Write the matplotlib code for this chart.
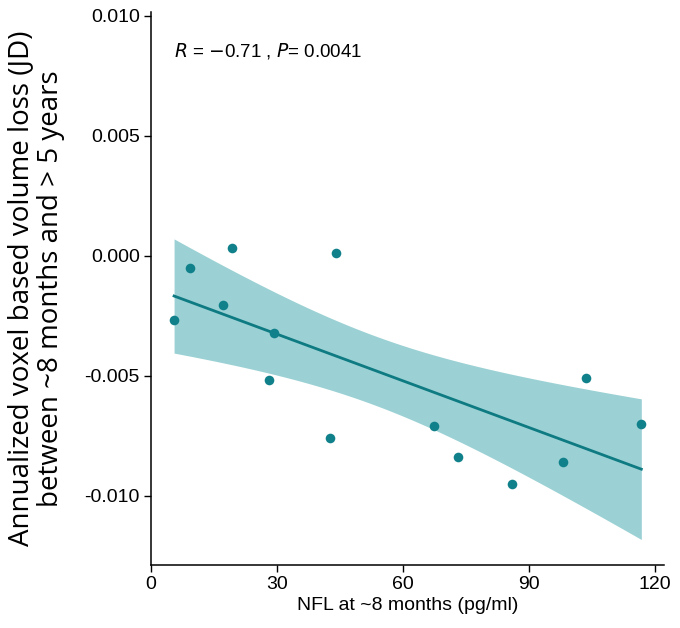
import numpy as np
import matplotlib.pyplot as plt

# NFL at ~8 months (pg/ml) and annualized JD volume loss
nfl = np.array([5.5, 9.4, 17.1, 19.4, 28.0, 29.3, 42.6, 44.0,
                67.4, 73.0, 86.0, 98.0, 103.5, 116.7])
jd_loss = np.array([-0.00268, -0.00053, -0.00207, 0.00033, -0.00518, -0.00322, -0.00758, 0.00013,
                    -0.00710, -0.00836, -0.00951, -0.00857, -0.00511, -0.00699])

x_ticks = [0, 30, 60, 90, 120]
y_ticks = [-0.010, -0.005, 0.000, 0.005, 0.010]
stat_text = r'$\it{R}$ = $-$0.71 , $\it{P}$= 0.0041'

point_col = '#10808A'
line_col = '#0E7A82'
band_col = '#9BD1D4'

# linear fit with 95% confidence band (like geom_smooth(method="lm"))
n = len(nfl)
slope, icpt = np.polyfit(nfl, jd_loss, 1)
resid = jd_loss - (icpt + slope * nfl)
s = np.sqrt(np.sum(resid**2) / (n - 2))
xg = np.linspace(nfl.min(), nfl.max(), 100)
yg = icpt + slope * xg
se = s * np.sqrt(1/n + (xg - nfl.mean())**2 / np.sum((nfl - nfl.mean())**2))
t = 2.179  # t(0.975, 12)

fig = plt.figure(figsize=(6.8, 6.28), dpi=100)
ax = fig.add_axes([0.222, 0.1003, 0.7545, 0.8807])

ax.fill_between(xg, yg - t*se, yg + t*se, color=band_col, lw=0, zorder=1)
ax.plot(xg, yg, color=line_col, lw=2, zorder=2)
ax.scatter(nfl, jd_loss, s=48, color=point_col, lw=0, zorder=3)

ax.text(5.5, 0.00853, stat_text, fontsize=13.5, family='Liberation Sans', va='center', ha='left')

ax.set_xlim(0, 122.1)
ax.set_ylim(-0.012875, 0.01015)
ax.set_xticks(x_ticks)
ax.set_yticks(y_ticks)
ax.set_xticklabels([str(v) for v in x_ticks], family='Liberation Sans', fontsize=14)
ax.set_yticklabels(['-0.010', '-0.005', '0.000', '0.005', '0.010'], family='Liberation Sans', fontsize=14)
ax.tick_params(length=5, width=1, colors='black', pad=3)

for side in ['top', 'right']:
    ax.spines[side].set_visible(False)
for side in ['left', 'bottom']:
    ax.spines[side].set_linewidth(1.1)

ax.set_xlabel('NFL at ~8 months (pg/ml)', family='Liberation Sans', fontsize=14, labelpad=3)
ax.set_ylabel('Annualized voxel based volume loss (JD)\nbetween ~8 months and > 5 years',
              family='Open Sans', fontsize=20, labelpad=14, linespacing=1.1)

fig.savefig('out.png', dpi=100)
